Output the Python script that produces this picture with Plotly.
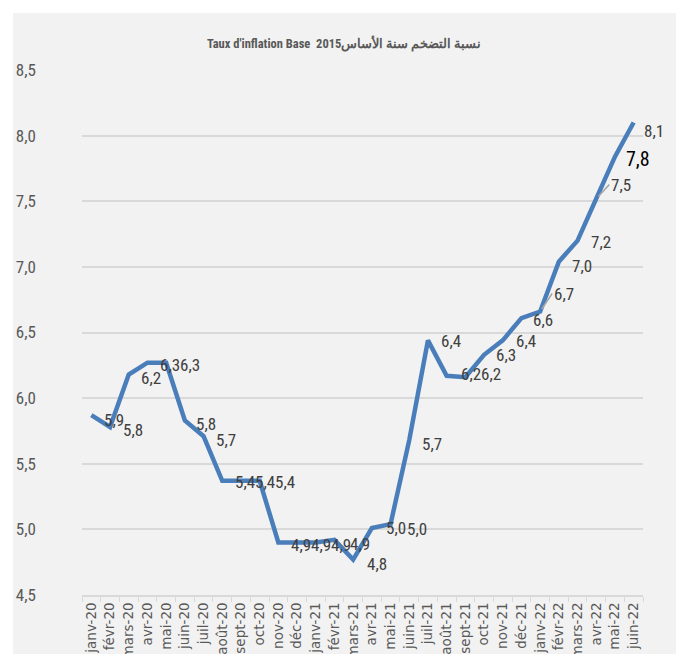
import plotly.graph_objects as go

months = ["janv-20", "févr-20", "mars-20", "avr-20", "mai-20", "juin-20", "juil-20", "août-20",
          "sept-20", "oct-20", "nov-20", "déc-20", "janv-21", "févr-21", "mars-21", "avr-21",
          "mai-21", "juin-21", "juil-21", "août-21", "sept-21", "oct-21", "nov-21", "déc-21",
          "janv-22", "févr-22", "mars-22", "avr-22", "mai-22", "juin-22"]
inflation = [5.87, 5.78, 6.18, 6.27, 6.27, 5.83, 5.71, 5.37, 5.37, 5.37, 4.90, 4.90, 4.90, 4.92,
             4.77, 5.01, 5.04, 5.68, 6.44, 6.17, 6.16, 6.33, 6.44, 6.61, 6.66, 7.04, 7.20, 7.52,
             7.84, 8.10]
y_ticks = [4.5, 5.0, 5.5, 6.0, 6.5, 7.0, 7.5, 8.0, 8.5]

# label placement (pixel offsets of the value labels relative to their point)
label_dy = [5, 3, 3, 2, 2, 4, 4, 1, 1, 1, 2, 2, 2, 4, 4, 0, 5, 4, 1, -2, -3, 0, 1, 2, -18, 4, 1,
            -14, 2, 8]
label_dx = [14, 14, 13, 14, 15, 12, 13, 14, 15, 16, 14, 15, 16, 17, 15, 15, 17, 14, 14, 15, 17,
            13, 14, 13, 15, 14, 14, 16, 12, 11]
leader_months = ["janv-22", "avr-22"]
highlight_month = "mai-22"

title_text = "<b>Taux d'inflation Base  2015نسبة التضخم سنة الأساس</b>"

COND = "Roboto Condensed, Liberation Sans, sans-serif"

fig = go.Figure()
fig.add_trace(go.Scatter(
    x=months, y=inflation, mode="lines",
    line=dict(color="#4a7ebb", width=4.5),
    hoverinfo="skip", showlegend=False, cliponaxis=False,
))

annotations = []
for i, (m, v) in enumerate(zip(months, inflation)):
    txt = f"{v:.1f}".replace(".", ",")
    special = (m == highlight_month)
    font = dict(family=COND, size=20 if special else 17,
                color="#000000" if special else "#404040")
    if m in leader_months:
        annotations.append(dict(
            x=m, y=v, xref="x", yref="y", text=txt, showarrow=True,
            ax=label_dx[i] - 3, ay=label_dy[i], axref="pixel", ayref="pixel",
            xanchor="left", yanchor="middle", arrowhead=0, arrowwidth=1.5,
            arrowcolor="#a6a6a6", standoff=3, font=font,
        ))
    else:
        annotations.append(dict(
            x=m, y=v, xref="x", yref="y", text=txt, showarrow=False,
            xanchor="left", yanchor="middle",
            xshift=label_dx[i] - 3, yshift=-label_dy[i], font=font,
        ))
fig.update_layout(annotations=annotations)

W, H = 678, 654
L, R, T, B = 82, 35, 70, 59
pw, ph = W - L - R, H - T - B

fig.add_shape(type="rect", xref="paper", yref="paper",
              x0=(13 - L) / pw, x1=(676 - L) / pw,
              y0=-0.3, y1=(H - B - 13) / ph,
              fillcolor="#f2f2f2", line=dict(width=0), layer="below")

fig.update_layout(
    width=W, height=H,
    margin=dict(l=L, r=R, t=T, b=B, autoexpand=False),
    paper_bgcolor="#ffffff", plot_bgcolor="#f2f2f2",
    separators=", ",
    template="none",
    title=dict(text=title_text, x=344 / W, xanchor="center", xref="container",
               y=1 - 44 / H, yanchor="middle", yref="container",
               font=dict(family=COND, size=12.5, color="#595959")),
    xaxis=dict(
        type="category", categoryorder="array", categoryarray=months,
        range=[-0.5, len(months) - 0.5], autorange=False,
        showgrid=False, zeroline=False,
        showline=True, linecolor="#d9d9d9", linewidth=2,
        ticks="outside", tickson="boundaries", ticklen=5, tickcolor="#d9d9d9", tickwidth=1,
        tickangle=-90, automargin=False,
        tickfont=dict(family="DejaVu Sans, sans-serif", size=13.5, color="#595959"),
    ),
    yaxis=dict(
        range=[4.5, 8.5], autorange=False, tickvals=y_ticks, tickformat=".1f",
        showgrid=True, gridcolor="#d9d9d9", gridwidth=2,
        zeroline=False, showline=False, ticks="", automargin=False,
        ticklabelstandoff=45,
        tickfont=dict(family=COND, size=17, color="#595959"),
    ),
)

fig.write_html(
    "out.html",
    config={"displayModeBar": False},
    post_script=("document.body.style.margin='0';"
                 "document.body.style.overflow='hidden';"
                 "document.documentElement.style.overflow='hidden';"),
)
